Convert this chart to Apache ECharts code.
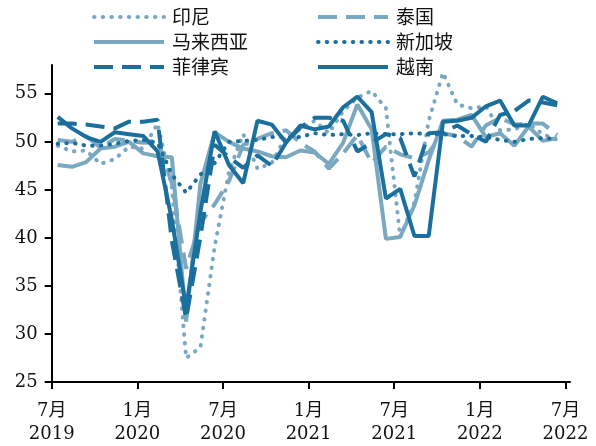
<!DOCTYPE html>
<html><head><meta charset="utf-8">
<script src="https://cdn.jsdelivr.net/npm/echarts@6/dist/echarts.min.js"></script>
<style>html,body{margin:0;padding:0;background:#fff}#c{width:596px;height:446px}</style>
</head><body><div id="c"></div>
<script>
// months Jul 2019 .. Jun 2022 (values plotted at mid-month)
const months = ['2019-07','2019-08','2019-09','2019-10','2019-11','2019-12',
 '2020-01','2020-02','2020-03','2020-04','2020-05','2020-06','2020-07','2020-08','2020-09','2020-10','2020-11','2020-12',
 '2021-01','2021-02','2021-03','2021-04','2021-05','2021-06','2021-07','2021-08','2021-09','2021-10','2021-11','2021-12',
 '2022-01','2022-02','2022-03','2022-04','2022-05','2022-06'];
const xTickLabels = ['7月\n2019','1月\n2020','7月\n2020','1月\n2021','7月\n2021','1月\n2022','7月\n2022'];
const yTicks = [25,30,35,40,45,50,55];

const indonesia = [49.6,49.0,49.1,47.7,48.2,49.5,49.3,51.9,45.3,27.5,28.6,39.1,46.9,50.8,47.2,47.8,50.6,51.3,52.2,50.9,53.2,54.6,55.3,53.5,40.1,43.7,52.2,57.2,53.9,53.5,53.7,51.2,51.3,51.9,50.8,50.2];
const thailand  = [50.2,50.0,50.6,49.4,50.3,50.1,49.9,50.2,45.7,36.8,41.6,43.5,45.9,49.7,50.3,50.9,51.2,49.9,49.0,47.2,48.8,50.7,47.8,49.5,48.7,48.3,48.9,50.9,50.6,49.5,51.7,52.5,51.8,51.9,51.9,50.7];
const malaysia  = [47.6,47.4,47.9,49.3,49.5,50.0,48.8,48.5,48.4,31.3,45.6,51.0,50.0,49.3,49.0,48.5,48.4,49.1,48.9,47.7,49.9,53.9,51.3,39.9,40.1,43.4,48.1,52.2,52.3,52.8,50.5,50.9,49.6,51.6,50.1,50.4];
const singapore = [49.8,49.9,49.6,49.6,49.8,50.1,50.2,49.9,46.6,44.7,46.6,47.8,50.0,50.1,50.2,50.5,50.5,50.5,50.9,50.7,50.8,50.7,50.9,50.8,50.8,50.9,50.8,50.8,50.6,50.6,50.5,50.2,50.0,50.3,50.4,50.3];
const philippines = [51.9,51.9,51.8,51.6,51.4,52.1,52.1,52.3,39.7,31.6,40.1,49.7,48.4,47.3,48.6,47.5,49.9,51.5,52.5,52.5,52.2,49.0,49.9,50.8,50.4,46.4,50.9,51.0,51.7,50.8,50.0,52.8,53.2,54.3,54.1,53.8];
const vietnam   = [52.6,51.4,50.5,50.0,51.0,50.8,50.6,49.0,41.9,32.7,42.7,51.1,47.6,45.7,52.2,51.8,49.9,51.7,51.3,51.6,53.6,54.7,53.1,44.1,45.1,40.2,40.2,52.1,52.2,52.5,53.7,54.3,51.7,51.7,54.7,54.0];

const MID_MONTH = 0.42; // monthly value plotted partway into its month
const LIGHT = '#7ba8c1', DARK = '#1b6f9d';
const DOT = [0.5, 8.2], DASH = [19, 9];
const toPts = arr => arr.map((v, i) => [i + MID_MONTH, v]);
function mk(name, data, color, type, cap) {
  return { name, type: 'line', data: toPts(data), symbol: 'none', showSymbol: false, smooth: false,
    lineStyle: { color, width: 4, type, cap: cap || 'butt' },
    itemStyle: { color }, emphasis: { disabled: true } };
}
const serif = '"DejaVu Serif","Noto Sans CJK SC",serif';
const chart = echarts.init(document.getElementById('c'), null, { renderer: 'canvas' });
const legendCommon = { orient: 'vertical', itemWidth: 70, itemHeight: 14, itemGap: 5,
  itemStyle: { opacity: 0 }, lineStyle: { width: 4 },
  textStyle: { fontFamily: '"Noto Sans CJK SC"', fontSize: 19, color: '#111', lineHeight: 20, padding: [0,0,0,3] },
  selectedMode: false, padding: 0 };
chart.setOption({
  animation: false,
  backgroundColor: '#fff',
  grid: { left: 51.7, right: 26, top: 65, bottom: 60.7, containLabel: false },
  legend: [
    Object.assign({ left: 92, top: 7, data: ['印尼','马来西亚','菲律宾'] }, legendCommon),
    Object.assign({ left: 316, top: 7, data: ['泰国','新加坡','越南'] }, legendCommon)
  ],
  xAxis: { type: 'value', min: 0, max: 36.32,
    axisLine: { show: true, onZero: false, lineStyle: { color: '#000', width: 2 } },
    axisTick: { show: true, length: 7, lineStyle: { color: '#000', width: 2 }, customValues: [0,6,12,18,24,30,36] },
    axisLabel: { customValues: [0,6,12,18,24,30,36], formatter: v => xTickLabels[Math.round(v / 6)],
      fontFamily: serif, fontSize: 18, color: '#111', lineHeight: 23, margin: 18 },
    splitLine: { show: false } },
  yAxis: { type: 'value', min: 25, max: 58,
    axisLine: { show: true, lineStyle: { color: '#000', width: 2 } },
    axisTick: { show: true, length: 7, lineStyle: { color: '#000', width: 2 }, customValues: yTicks },
    axisLabel: { customValues: yTicks, fontFamily: serif, fontSize: 18, color: '#111', margin: 14 },
    splitLine: { show: false } },
  series: [
    mk('印尼', indonesia, LIGHT, DOT, 'round'),
    mk('泰国', thailand, LIGHT, DASH),
    mk('马来西亚', malaysia, LIGHT, 'solid'),
    mk('新加坡', singapore, DARK, DOT, 'round'),
    mk('菲律宾', philippines, DARK, DASH),
    mk('越南', vietnam, DARK, 'solid')
  ]
});
</script></body></html>
